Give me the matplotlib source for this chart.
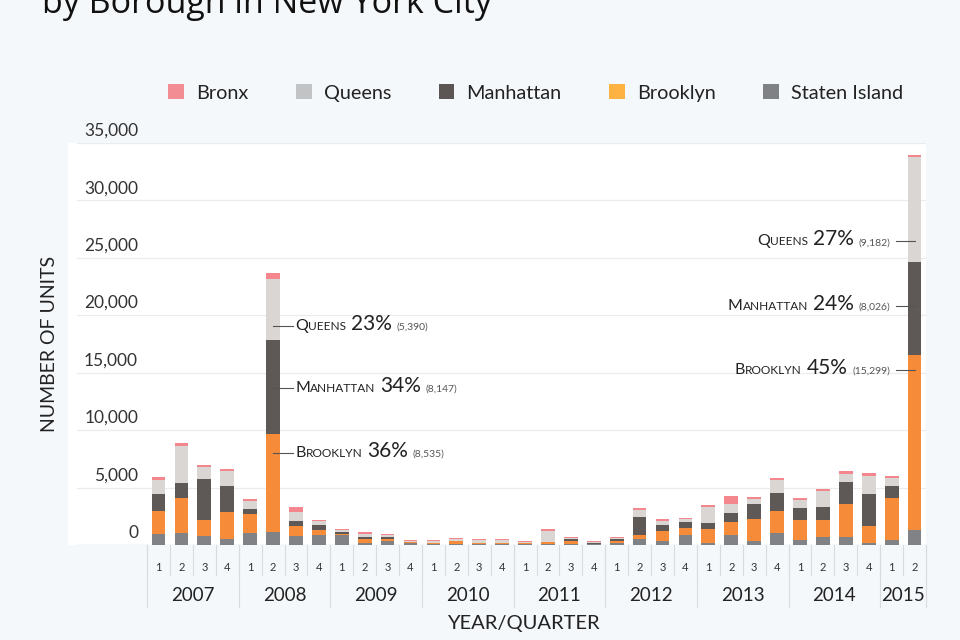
import numpy as np
import matplotlib.pyplot as plt
from matplotlib.patches import Patch
from matplotlib.offsetbox import TextArea, HPacker, AnnotationBbox

plt.rcParams['font.family'] = ['Lato', 'DejaVu Sans']

# one bar per quarter, 2007 Q1 .. 2015 Q2
years = ['2007', '2008', '2009', '2010', '2011', '2012', '2013', '2014', '2015']
quarters_in_year = [4, 4, 4, 4, 4, 4, 4, 4, 2]
quarter_labels = ['1', '2', '3', '4'] * 8 + ['1', '2']

# units per borough (stacked bottom -> top)
staten = [930, 1050, 760, 495, 1050, 1130, 815, 845, 845, 205, 320, 200,
          90, 90, 60, 60, 115, 90, 115, 90, 145, 555, 350, 900,
          175, 900, 350, 1050, 405, 700, 730, 175, 405, 1280]
brooklyn = [2040, 3030, 1455, 2415, 1660, 8535, 815, 465, 115, 290, 235, 30,
            90, 235, 115, 115, 30, 145, 235, 30, 205, 350, 845, 580,
            1250, 1135, 1920, 1950, 1775, 1485, 2820, 1510, 3665, 15299]
manhattan = [1430, 1340, 3550, 2270, 410, 8147, 435, 465, 175, 235, 145, 40,
             20, 30, 30, 30, 60, 30, 145, 20, 145, 1570, 580, 495,
             495, 755, 1280, 1540, 1020, 1105, 1920, 2795, 1050, 8026]
queens = [1280, 3230, 990, 1220, 670, 5390, 845, 290, 175, 235, 145, 100,
          115, 145, 260, 230, 60, 990, 90, 115, 90, 610, 350, 260,
          1425, 755, 495, 1105, 700, 1425, 755, 1570, 755, 9182]
bronx = [200, 200, 230, 175, 200, 500, 380, 145, 115, 145, 145, 100,
         145, 115, 90, 90, 60, 175, 145, 115, 115, 145, 175, 145,
         145, 730, 145, 175, 175, 175, 175, 235, 115, 150]

series = [('Staten Island', staten, '#818286'),
          ('Brooklyn', brooklyn, '#f68b3a'),
          ('Manhattan', manhattan, '#5e5856'),
          ('Queens', queens, '#d9d6d3'),
          ('Bronx', bronx, '#f4878e')]
legend_colors = {'Bronx': '#f28d93', 'Queens': '#c2c3c5', 'Manhattan': '#5b5654',
                 'Brooklyn': '#fdb241', 'Staten Island': '#808184'}

ink = '#222222'
bg = '#f5f8fb'

fig = plt.figure(figsize=(9.6, 6.4), dpi=100, facecolor=bg)
ax = fig.add_axes([68/960, 1-545/640, (926-68)/960, (545-143)/640])
ax.set_facecolor('white')
ax.set_xlim(-3.95, len(quarter_labels) - 0.5)
ax.set_ylim(0, 35000)
ax.set_xticks([])
ax.set_yticks([])
for s in ax.spines.values():
    s.set_visible(False)

# gridlines + labels sitting above them
ytrans = ax.get_yaxis_transform()
for v in range(0, 35001, 5000):
    ax.axhline(v, xmin=0.0105, color='#d6d6d6' if v == 0 else '#ececec', lw=0.9, zorder=0)
    ax.annotate(f'{v:,}', xy=(0.0816, v), xycoords=ytrans, xytext=(0, 3),
                textcoords='offset points', ha='right', va='bottom',
                fontsize=12.5, color='#333333', annotation_clip=False)

# stacked bars
x = np.arange(len(quarter_labels))
bottom = np.zeros(len(x))
for name, vals, col in series:
    ax.bar(x, vals, width=0.6, bottom=bottom, color=col, zorder=2)
    bottom += np.array(vals)

# x axis: quarter / year cells
xtrans = ax.get_xaxis_transform()
for i in range(len(x) + 1):
    ax.plot([i - 0.5] * 2, [0, -0.075], transform=xtrans, clip_on=False,
            color='#d9dbde', lw=0.8)
for i, q in enumerate(quarter_labels):
    ax.text(i, -0.057, q, transform=xtrans, ha='center', va='center',
            fontsize=8, color='#333333')
start = 0
for yr, n in zip(years, quarters_in_year):
    ax.plot([start - 0.5] * 2, [0, -0.155], transform=xtrans, clip_on=False,
            color='#d9dbde', lw=0.8)
    ax.text(start + (n - 1) / 2, -0.125, yr, transform=xtrans, ha='center',
            va='center', fontsize=13.5, color=ink)
    start += n
ax.plot([start - 0.5] * 2, [0, -0.155], transform=xtrans, clip_on=False,
        color='#d9dbde', lw=0.8)

fig.text(0.545, 1-623/640, 'YEAR/QUARTER', ha='center', va='center',
         fontsize=14.5, color=ink)
fig.text(50/960, 1-344/640, 'NUMBER OF UNITS', rotation=90, ha='center',
         va='center', fontsize=14, color=ink)


# callouts with small-caps borough names
def callout(name, value, total):
    word = HPacker(children=[
        TextArea(name[0].upper(), textprops=dict(fontsize=11.5, color=ink)),
        TextArea(name[1:].upper(), textprops=dict(fontsize=8.6, color=ink))],
        align='baseline', pad=0, sep=0)
    pct = TextArea(f'{round(100 * value / total)}%', textprops=dict(fontsize=15, color=ink))
    cnt = TextArea(f'({value:,})', textprops=dict(fontsize=7.5, color='#555555'))
    return HPacker(children=[word, pct, cnt], align='baseline', pad=0, sep=3.5)


callouts = [
    (5, 'right', [('Queens', queens, 19100), ('Manhattan', manhattan, 13700),
                  ('Brooklyn', brooklyn, 8050)]),
    (33, 'left', [('Queens', queens, 26450), ('Manhattan', manhattan, 20840),
                  ('Brooklyn', brooklyn, 15260)]),
]
for idx, side, items in callouts:
    for name, vals, ypos in items:
        box = callout(name, vals[idx], bottom[idx])
        if side == 'right':
            ax.plot([idx, idx + 0.87], [ypos, ypos], color='#555555', lw=0.8, zorder=3)
            ab = AnnotationBbox(box, (idx + 0.96, ypos), box_alignment=(0, 0.4),
                                frameon=False, pad=0)
        else:
            ax.plot([idx, idx - 0.83], [ypos, ypos], color='#555555', lw=0.8, zorder=3)
            ab = AnnotationBbox(box, (idx - 1.05, ypos), box_alignment=(1, 0.4),
                                frameon=False, pad=0)
        ax.add_artist(ab)

# legend
order = ['Bronx', 'Queens', 'Manhattan', 'Brooklyn', 'Staten Island']
handles = [Patch(facecolor=legend_colors[n], edgecolor='none') for n in order]
fig.legend(handles, order, loc='center', bbox_to_anchor=(0.558, 0.855), ncol=5,
           frameon=False, fontsize=14.3, handlelength=0.8, handleheight=0.8,
           handletextpad=0.6, columnspacing=2.4, labelcolor=ink)

fig.text(42/960, 1-13/640, 'by Borough in New York City', fontsize=24.5,
         family=['Open Sans', 'DejaVu Sans'], va='baseline', ha='left', color='#111111')

fig.savefig('out.png', dpi=100, facecolor=bg)
